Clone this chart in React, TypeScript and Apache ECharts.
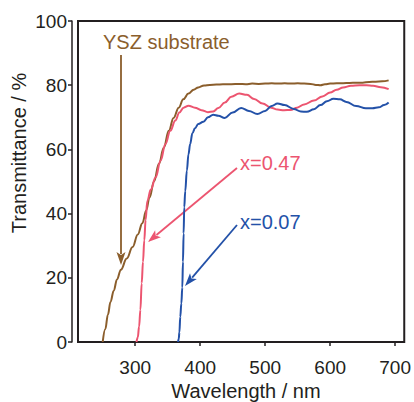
import React, { useEffect, useRef } from "react";
import * as echarts from "echarts";

const xTicks = [300, 400, 500, 600, 700];
const yTicks = [0, 20, 40, 60, 80, 100];

const yszData: [number, number][] = [
  [250, 0], [254, 4], [258, 8.5], [262, 12.5], [267, 16], [272, 19.5], [278, 22.5],
  [287, 26], [296, 29.6], [304, 33.5], [311, 37], [317, 41], [322, 45], [329, 50],
  [336.5, 55.5], [344, 60.5], [351.7, 65.8], [359, 69.8], [367, 73], [374, 75.6],
  [382, 77.4], [390, 78.6], [397, 79.3], [406, 79.9], [415, 80.1], [425, 80.2],
  [435, 80.3], [448, 80.3], [460, 80.4], [470, 80.3], [480, 80.5], [490, 80.4],
  [500, 80.5], [510, 80.6], [520, 80.5], [530, 80.6], [540, 80.5], [550, 80.6],
  [560, 80.5], [570, 80.4], [578, 80.1], [585, 80.0], [592, 80.3], [600, 80.5],
  [610, 80.6], [620, 80.6], [630, 80.7], [640, 80.8], [650, 80.8], [660, 81.0],
  [670, 81.1], [680, 81.2], [690, 81.5],
];

const x047Data: [number, number][] = [
  [302, 0], [304, 1.5], [306, 4.8], [308, 10], [310, 18.3], [312, 25], [314, 31.7],
  [316, 38], [318.7, 44], [324, 47.5], [331.5, 51.3], [339, 56.5], [346.6, 61.7],
  [354, 65.8], [361.8, 69], [368, 71.5], [374.5, 73], [382, 73.6], [392, 73],
  [402, 72.2], [412, 71.6], [420, 71.8], [428, 72.9], [438, 74.6], [448, 76.4],
  [460, 77.4], [472, 77], [483, 75.7], [496, 74.3], [509, 73], [519, 72.4],
  [529, 72.2], [539, 72.3], [549, 73], [560, 74], [575, 75.2], [588, 76.5],
  [600, 77.7], [610, 78.6], [620, 79.3], [632, 79.8], [645, 80], [656, 80],
  [666, 79.8], [678, 79.4], [690, 78.8],
];

const x007Data: [number, number][] = [
  [366, 0], [367, 1], [368, 3], [369.4, 7.9], [371, 12], [372.5, 17], [373.5, 25],
  [374.5, 33.8], [375.5, 42], [377, 47], [379.5, 53.4], [382, 58.5], [384.6, 61.7],
  [388, 65], [392, 66.6], [397, 67.9], [405, 68.6], [412, 70], [420, 70.8],
  [428, 70.5], [437.8, 69.8], [450, 71.5], [463, 72.9], [475, 72], [488, 71],
  [500, 72], [510, 73.5], [519, 74.3], [530, 73.8], [544, 72.6], [555, 71.8],
  [564, 71.7], [575, 72.5], [585, 73.8], [595, 75], [605, 75.8], [615, 75.6],
  [625, 74.8], [640, 73.5], [655, 72.8], [665, 72.8], [675, 73.1], [683, 73.8],
  [690, 74.6],
];

const BROWN = "#8b5e2c";
const PINK = "#ec5570";
const BLUE = "#2351a8";
const AXIS = "#231f20";
const FONT = "Liberation Sans, Arial, sans-serif";

function arrow(x1: number, y1: number, x2: number, y2: number, color: string, headLen = 13, headHalf = 4.5) {
  const dx = x2 - x1;
  const dy = y2 - y1;
  const len = Math.sqrt(dx * dx + dy * dy);
  const ux = dx / len;
  const uy = dy / len;
  const bx = x2 - ux * headLen;
  const by = y2 - uy * headLen;
  const px = -uy;
  const py = ux;
  return [
    {
      type: "line",
      shape: { x1, y1, x2: bx + ux * 2, y2: by + uy * 2 },
      style: { stroke: color, lineWidth: 1.8 },
      silent: true,
    },
    {
      type: "polygon",
      shape: {
        points: [
          [x2, y2],
          [bx + px * headHalf, by + py * headHalf],
          [bx + ux * 3, by + uy * 3],
          [bx - px * headHalf, by - py * headHalf],
        ],
      },
      style: { fill: color },
      silent: true,
    },
  ];
}

export default function App() {
  const ref = useRef<HTMLDivElement>(null);
  useEffect(() => {
    if (!ref.current) return;
    const chart = echarts.init(ref.current, undefined, { renderer: "svg" });
    const lineSeries = (name: string, data: [number, number][], color: string) => ({
      name,
      type: "line",
      data,
      showSymbol: false,
      symbol: "none",
      smooth: 0.4,
      smoothMonotone: "x",
      lineStyle: { color, width: 2 },
      z: 3,
    });
    chart.setOption({
      animation: false,
      backgroundColor: "#ffffff",
      grid: {
        left: 78,
        top: 21,
        right: 6,
        bottom: 60,
        show: true,
        borderColor: AXIS,
        borderWidth: 2,
        backgroundColor: "transparent",
        containLabel: false,
      },
      xAxis: {
        type: "value",
        min: 212,
        max: 714,
        offset: 7,
        axisLine: { show: true, lineStyle: { color: AXIS, width: 1.5 } },
        axisTick: { show: true, length: 4, inside: false, customValues: xTicks, lineStyle: { color: AXIS, width: 1.5 } },
        axisLabel: { customValues: xTicks, fontSize: 19, color: AXIS, fontFamily: FONT, margin: 9 },
        splitLine: { show: false },
      },
      yAxis: {
        type: "value",
        min: 0,
        max: 100,
        interval: 20,
        offset: 6,
        axisLine: { show: true, lineStyle: { color: AXIS, width: 1.5 } },
        axisTick: { show: true, length: 4, inside: false, customValues: yTicks, lineStyle: { color: AXIS, width: 1.5 } },
        axisLabel: { customValues: yTicks, fontSize: 19, color: AXIS, fontFamily: FONT, margin: 5 },
        splitLine: { show: false },
      },
      series: [
        lineSeries("YSZ substrate", yszData, BROWN),
        lineSeries("x=0.47", x047Data, PINK),
        lineSeries("x=0.07", x007Data, BLUE),
      ],
      graphic: [
        {
          type: "text",
          style: { text: "Wavelength / nm", x: 246, y: 391, align: "center", verticalAlign: "middle", fill: AXIS, font: `20px ${FONT}` },
          silent: true,
        },
        {
          type: "text",
          x: 19,
          y: 153,
          rotation: Math.PI / 2,
          style: { text: "Transmittance / %", x: 0, y: 0, align: "center", verticalAlign: "middle", fill: AXIS, font: `20px ${FONT}` },
          silent: true,
        },
        {
          type: "text",
          style: { text: "YSZ substrate", x: 103, y: 42, align: "left", verticalAlign: "middle", fill: BROWN, font: `20px ${FONT}` },
          silent: true,
        },
        {
          type: "text",
          style: { text: "x=0.47", x: 240, y: 163, align: "left", verticalAlign: "middle", fill: PINK, font: `20px ${FONT}` },
          silent: true,
        },
        {
          type: "text",
          style: { text: "x=0.07", x: 240, y: 222, align: "left", verticalAlign: "middle", fill: BLUE, font: `20px ${FONT}` },
          silent: true,
        },
        ...arrow(121, 55, 121, 265, BROWN),
        ...arrow(237, 168, 148, 242, PINK),
        ...arrow(237, 225, 185, 286, BLUE),
      ],
    });
    return () => chart.dispose();
  }, []);
  return (
    <div
      ref={ref}
      style={{ position: "fixed", left: 0, top: 0, width: 414, height: 402, background: "#fff" }}
    />
  );
}
